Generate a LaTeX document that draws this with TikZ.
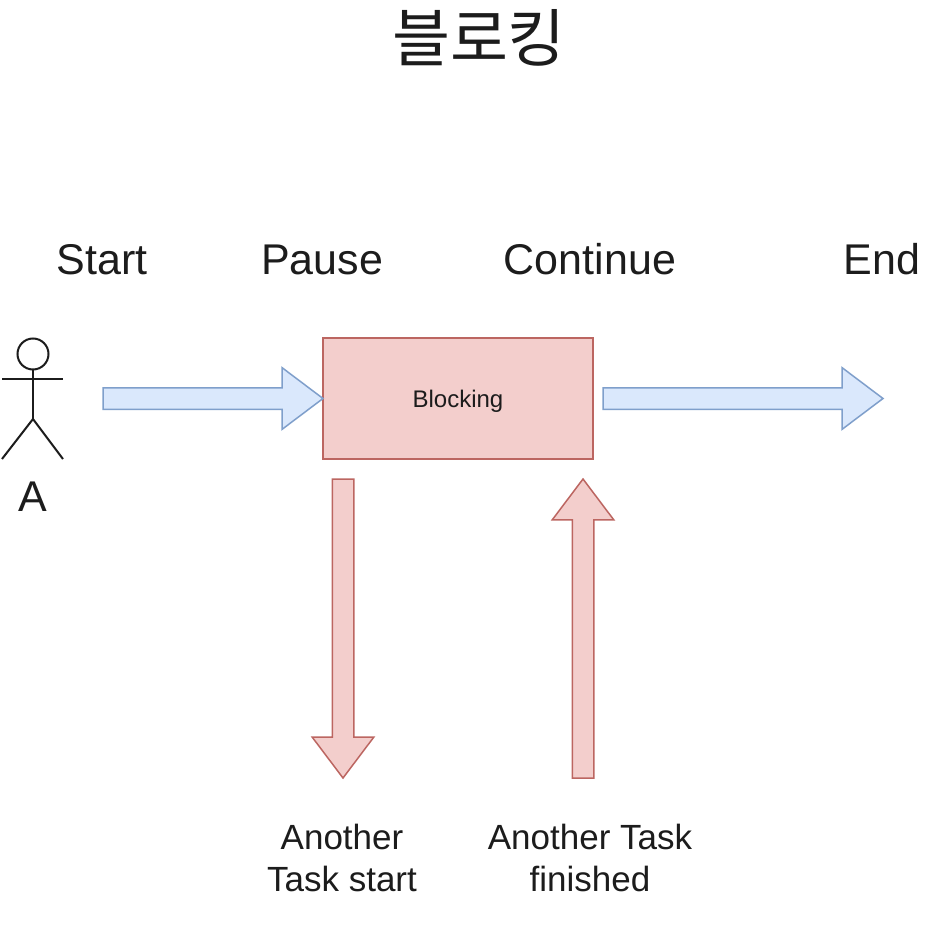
\documentclass[tikz,border=0pt]{standalone}
\usepackage{fontspec}
\setmainfont{Liberation Sans}
\newfontfamily\krfont{Noto Sans CJK KR}
\usetikzlibrary{shapes.arrows}
\definecolor{bluefill}{HTML}{DAE8FC}
\definecolor{blueline}{HTML}{7F9FCB}
\definecolor{redfill}{HTML}{F3CECC}
\definecolor{redline}{HTML}{BC6661}
\definecolor{inkcol}{HTML}{1C1C1C}
\tikzset{
    fatarrow/.style={single arrow,draw,line width=1.5pt,outer sep=0pt,anchor=tip,minimum width=60pt,single arrow head extend=20pt,single arrow head indent=0pt,single arrow tip angle=74},
    bluearrow/.style={fatarrow,inner xsep=0pt,inner ysep=10pt,draw=blueline,fill=bluefill},
    redarrow/.style={fatarrow,inner xsep=10pt,inner ysep=0pt,draw=redline,fill=redfill},
    lbl/.style={text=inkcol,font=\fontsize{43}{43}\selectfont,inner sep=0pt,anchor=base},
    tasklbl/.style={text=inkcol,font=\fontsize{35}{42}\selectfont,align=center,inner sep=0pt},
    actorline/.style={draw=inkcol,line width=2pt}
}
\begin{document}
\begin{tikzpicture}[x=1pt,y=-1pt]
    \useasboundingbox (0,0) rectangle (942,928);
    % title and top labels
    \node[text=inkcol,font=\krfont\fontsize{63}{63}\selectfont,inner sep=0pt] (title) at (479,38) {블로킹};
    \node[lbl] (start) at (102,274) {Start};
    \node[lbl] (pause) at (322,274) {Pause};
    \node[lbl] (continue) at (590,274) {Continue};
    \node[lbl] (end) at (882,274) {End};
    % actor
    \node[circle,actorline,minimum size=31pt,inner sep=0pt,outer sep=0pt] (head) at (33,354) {};
    \coordinate (hip) at (33,419);
    \draw[actorline] (head.south)--(hip);
    \draw[actorline] (2,379)--(63,379);
    \draw[actorline] (2,459)--(hip)--(63,459);
    \node[lbl] (actor) at (33,511) {A};
    % blocking box
    \node[draw=redline,fill=redfill,line width=1.5pt,minimum width=270pt,minimum height=121pt,inner sep=0pt,outer sep=0pt,text=inkcol,font=\fontsize{24}{24}\selectfont,text height=24pt,text depth=6pt] (blocking) at (458,398.5) {Blocking};
    % arrows
    \node[bluearrow,minimum height=220pt] (run1) at (323,398.5) {};
    \node[bluearrow,minimum height=280pt] (run2) at (883,398.5) {};
    \node[redarrow,minimum height=299pt,shape border rotate=270] (taskdown) at (343,778) {};
    \node[redarrow,minimum height=299pt,shape border rotate=90] (taskup) at (583,479) {};
    % task labels
    \node[tasklbl] (startlbl) at (342,858) {Another\\Task start};
    \node[tasklbl] (donelbl) at (590,858) {Another Task\\finished};
\end{tikzpicture}
\end{document}
